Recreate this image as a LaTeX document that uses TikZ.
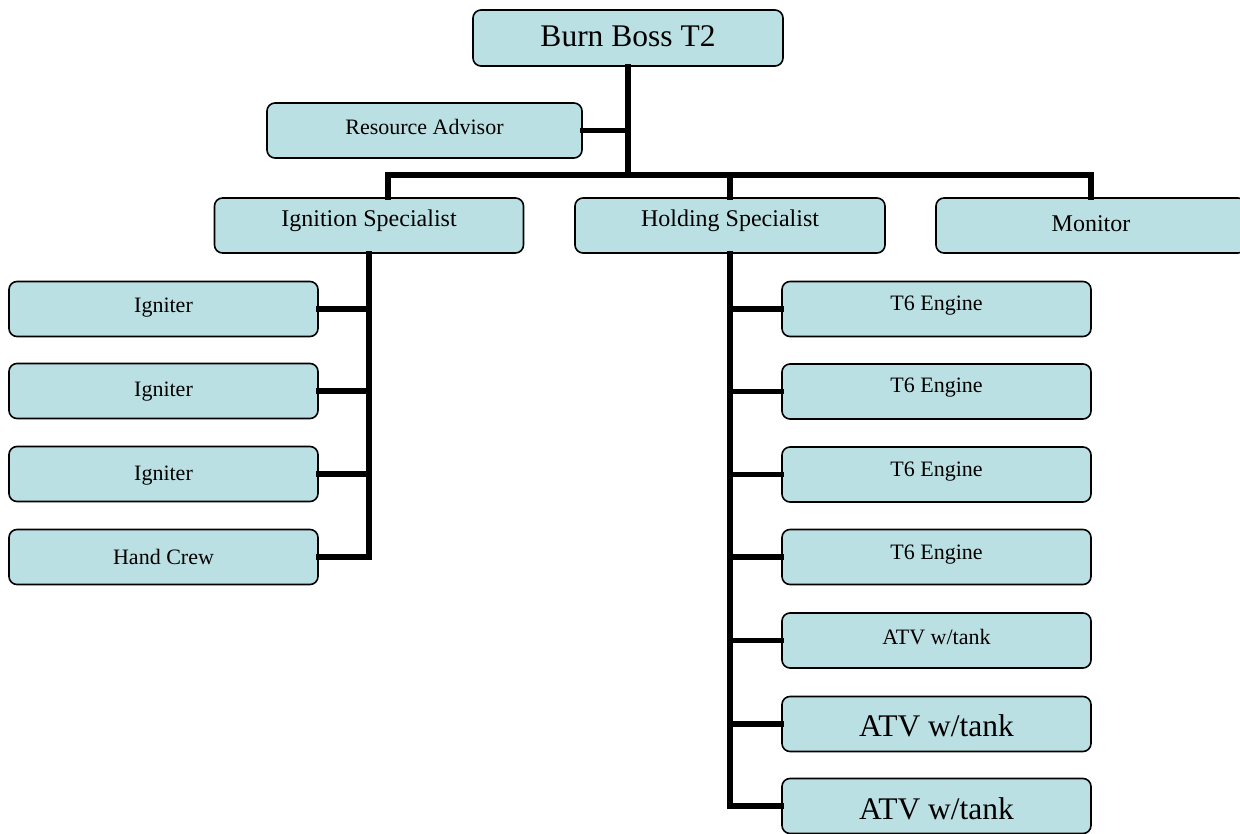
\documentclass[tikz,border=0pt]{standalone}
\usepackage{fontspec}
\setmainfont{Liberation Serif}
\definecolor{boxfill}{RGB}{187,224,227}
\begin{document}
\begin{tikzpicture}[x=1pt,y=-1pt,
  box/.style={draw=black,line width=1.6pt,fill=boxfill,rounded corners=8pt,
    minimum width=309pt,minimum height=55pt,inner sep=0pt,anchor=center},
  bo/.style={text depth=0pt,text height=#1},
  fbig/.style={font=\fontsize{31.5}{36}\selectfont},
  fmid/.style={font=\fontsize{24}{28}\selectfont},
  fsml/.style={font=\fontsize{22}{26}\selectfont},
  conn/.style={line width=5.5pt,line cap=rect,line join=miter}]
\useasboundingbox (0,0) rectangle (1240,834);
\begin{scope}
\clip (0,0) rectangle (1240,834);
% nodes
\node[box,fbig,bo=18pt,minimum width=310pt,minimum height=56pt] (boss) at (628,38) {Burn Boss T2};
\node[box,fsml,bo=9pt,minimum width=315pt] (ra) at (424.5,130.5) {Resource Advisor};
\node[box,fmid,bo=3pt] (ign) at (369,225.5) {Ignition Specialist};
\node[box,fmid,bo=2.5pt,minimum width=310pt] (hold) at (730,225.5) {Holding Specialist};
\node[box,fmid,bo=12pt,minimum width=310pt] (mon) at (1091,225.5) {Monitor};
\node[box,fsml,bo=8pt] (ig1) at (163.5,309) {Igniter};
\node[box,fsml,bo=10pt] (ig2) at (163.5,391) {Igniter};
\node[box,fsml,bo=12pt] (ig3) at (163.5,474) {Igniter};
\node[box,fsml,bo=15pt] (hc) at (163.5,557) {Hand Crew};
\node[box,fsml,bo=4pt] (e1) at (936.5,309) {T6 Engine};
\node[box,fsml,bo=2.5pt] (e2) at (936.5,391.5) {T6 Engine};
\node[box,fsml,bo=3pt] (e3) at (936.5,474.5) {T6 Engine};
\node[box,fsml,bo=4pt] (e4) at (936.5,557) {T6 Engine};
\node[box,fsml,bo=7pt] (a1) at (936.5,640.5) {ATV w/tank};
\node[box,fbig,bo=25pt] (a2) at (936.5,724) {ATV w/tank};
\node[box,fbig,bo=26pt] (a3) at (936.5,806) {ATV w/tank};
% connectors
\coordinate (bl) at (388,175);
\coordinate (br) at (1091,175);
\draw[conn] (boss.south) -- (boss.south |- bl);
\draw[conn] (ra.east) -- (ra.east -| boss.south);
\draw[conn] (bl |- ign.north) -- (bl) -- (br) -- (br |- mon.north);
\draw[conn] (hold.north) -- (hold.north |- bl);
\draw[conn] (ign.south) -- (ign.south |- hc.east);
\foreach \n in {ig1,ig2,ig3,hc} \draw[conn] (\n.east) -- (\n.east -| ign.south);
\draw[conn] (hold.south) -- (hold.south |- a3.west);
\foreach \n in {e1,e2,e3,e4,a1,a2,a3} \draw[conn] (\n.west) -- (\n.west -| hold.south);
\end{scope}
\end{tikzpicture}
\end{document}
